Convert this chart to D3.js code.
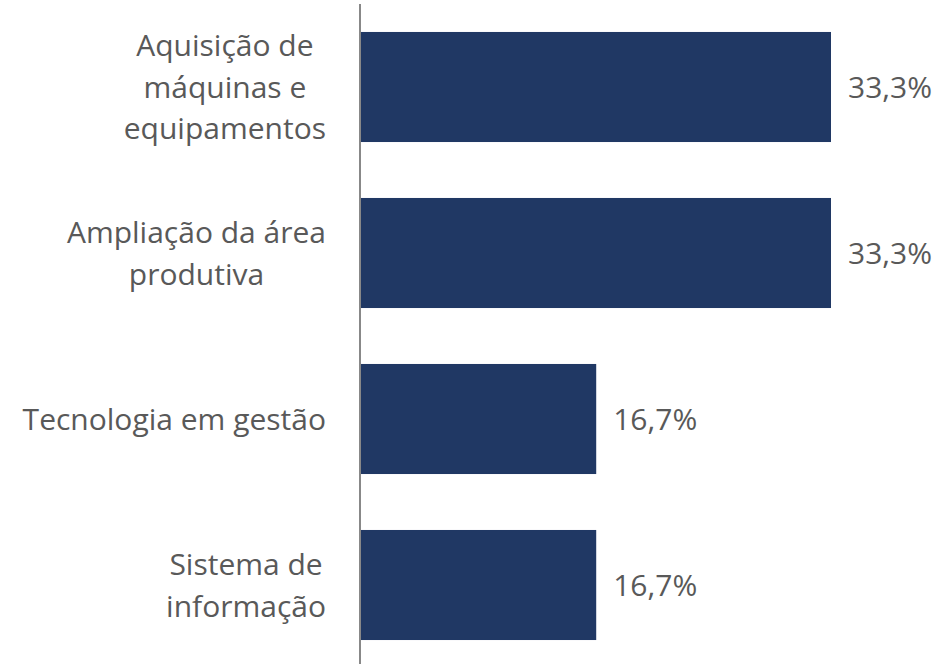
<!DOCTYPE html>
<html>
<head>
<meta charset="utf-8">
<script src="https://cdn.jsdelivr.net/npm/d3@7"></script>
<style>
  html, body { margin: 0; padding: 0; background: #fff; }
  svg text { font-family: "Open Sans", "Noto Sans", sans-serif; fill: #595959; }
</style>
</head>
<body>
<svg id="chart" width="937" height="664"></svg>
<script>
// Categories (each entry is a list of label lines) and their shares in percent
const categories = [
  ["Aquisição de", "máquinas e", "equipamentos"],
  ["Ampliação da área", "produtiva"],
  ["Tecnologia em gestão"],
  ["Sistema de", "informação"]
];
const values = [33.3, 33.3, 16.7, 16.7];
const valueLabels = ["33,3%", "33,3%", "16,7%", "16,7%"];

const svg = d3.select("#chart");
const margin = { left: 360, top: 4, right: 0, bottom: 0 };
const plotBottom = 668;
const fontSize = 30;
const lineGap = 41.5;
const labelRight = 326;

const ids = categories.map((_, i) => i);

const y = d3.scaleBand()
  .domain(ids)
  .range([margin.top, plotBottom])
  .paddingInner(0.337)
  .paddingOuter(0.1685);

const x = d3.scaleLinear()
  .domain([0, 33.3])
  .range([margin.left, 831]);

// Bars
svg.append("g")
  .selectAll("rect")
  .data(values)
  .join("rect")
  .attr("x", x(0))
  .attr("y", (d, i) => y(i))
  .attr("width", d => x(d) - x(0))
  .attr("height", y.bandwidth())
  .attr("fill", "#203864");

// Value labels
svg.append("g")
  .selectAll("text")
  .data(values)
  .join("text")
  .attr("x", d => x(d) + 17)
  .attr("y", (d, i) => y(i) + y.bandwidth() / 2)
  .attr("dy", "0.36em")
  .attr("font-size", fontSize)
  .text((d, i) => valueLabels[i]);

// Category axis (line only, multi-line labels)
const axis = d3.axisLeft(y).tickSize(0).tickFormat("");
const axisG = svg.append("g")
  .attr("transform", `translate(${margin.left},0)`)
  .call(axis);
axisG.select(".domain")
  .attr("stroke", "#888888")
  .attr("stroke-width", 2)
  .attr("d", `M0,${margin.top}V${plotBottom}`);

const labels = svg.append("g")
  .selectAll("text")
  .data(categories)
  .join("text")
  .attr("text-anchor", "middle")
  .attr("font-size", fontSize);

labels.each(function(lines, i) {
  const t = d3.select(this);
  const cy = y(i) + y.bandwidth() / 2;
  const startY = cy - (lines.length - 1) * lineGap / 2;
  lines.forEach((ln, k) => {
    t.append("tspan")
      .attr("x", 0)
      .attr("y", startY + k * lineGap)
      .attr("dy", "0.36em")
      .text(ln);
  });
});

// Center lines within each block, with the block's widest line ending at labelRight
labels.each(function() {
  const t = d3.select(this);
  let w = 0;
  t.selectAll("tspan").each(function() { w = Math.max(w, this.getComputedTextLength()); });
  t.selectAll("tspan").attr("x", labelRight - w / 2);
});
</script>
</body>
</html>
